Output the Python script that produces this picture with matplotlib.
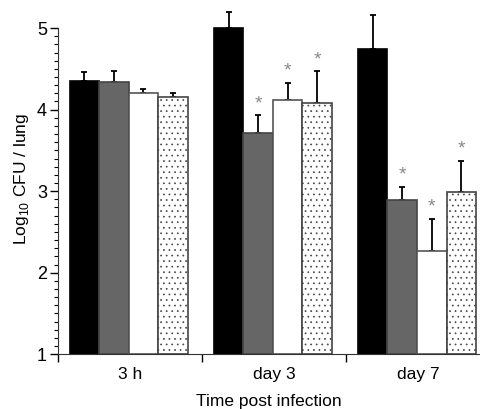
import numpy as np
import matplotlib
matplotlib.use('Agg')
import matplotlib.pyplot as plt

plt.rcParams['font.family'] = ['Liberation Sans', 'DejaVu Sans']
plt.rcParams['hatch.color'] = '#555555'
plt.rcParams['hatch.linewidth'] = 0.5

# data
groups = ['3 h', 'day 3', 'day 7']
black_vals = [4.35, 5.00, 4.74]
black_err = [0.11, 0.20, 0.42]
gray_vals = [4.34, 3.71, 2.89]
gray_err = [0.13, 0.22, 0.16]
white_vals = [4.21, 4.12, 2.26]
white_err = [0.04, 0.21, 0.40]
dot_vals = [4.16, 4.08, 2.99]
dot_err = [0.04, 0.39, 0.38]
# significance markers (series index, group index)
stars = [(1, 1), (2, 1), (3, 1), (1, 2), (2, 2), (3, 2)]

fig = plt.figure(figsize=(4.8, 4.09), dpi=100)
ax = fig.add_axes([0.121, 0.134, 0.877, 0.857])

x = np.arange(len(groups))
w = 0.205
offsets = np.array([-1.5, -0.5, 0.5, 1.5]) * w - 0.01
series = [
    (black_vals, black_err, dict(color='black', edgecolor='black')),
    (gray_vals, gray_err, dict(color='#666666', edgecolor='#444444')),
    (white_vals, white_err, dict(color='white', edgecolor='#555555')),
    (dot_vals, dot_err, dict(color='white', edgecolor='#444444', hatch='...')),
]
for i, (vals, err, style) in enumerate(series):
    h = np.array(vals) - 1
    ax.bar(x + offsets[i], h, w, bottom=1, linewidth=1.2, zorder=2, **style)
    ax.errorbar(x + offsets[i], vals, yerr=[np.zeros(3), err], fmt='none',
                ecolor='black', elinewidth=1.3, capsize=2.5, capthick=1.3, zorder=1)

for s, g in stars:
    vals, err, _ = series[s]
    ax.text(x[g] + offsets[s], vals[g] + err[g] + 0.04, '*', ha='center', va='bottom',
            color='#888888', fontsize=14)

ax.set_xlim(-0.5, 2.42)
ax.set_ylim(1, 5.3)
ax.spines['top'].set_visible(False)
ax.spines['right'].set_visible(False)
ax.spines['left'].set_bounds(1, 5)
ax.spines['left'].set_color('#333333')
ax.spines['bottom'].set_color('#333333')

ax.set_yticks([1, 2, 3, 4, 5])
ax.set_yticks(np.arange(1, 5.01, 0.1), minor=True)
ax.tick_params(axis='y', which='major', length=6, width=1, labelsize=13, direction='out', pad=2)
ax.tick_params(axis='y', which='minor', length=3, width=0.8, direction='out')

ax.set_xticks([-0.5, 0.5, 1.5])
ax.set_xticklabels([])
ax.tick_params(axis='x', which='major', length=6, width=1, direction='out')
ax.set_xticks(x, minor=True)
ax.set_xticklabels(groups, minor=True)
ax.tick_params(axis='x', which='minor', length=0, labelsize=12.5, pad=9)

ax.set_xlabel('Time post infection', fontsize=12.5, labelpad=9)
ax.set_ylabel('Log$_{\\mathregular{10}}$ CFU / lung', fontsize=12.5, labelpad=4)

fig.savefig('out.png', dpi=100)
